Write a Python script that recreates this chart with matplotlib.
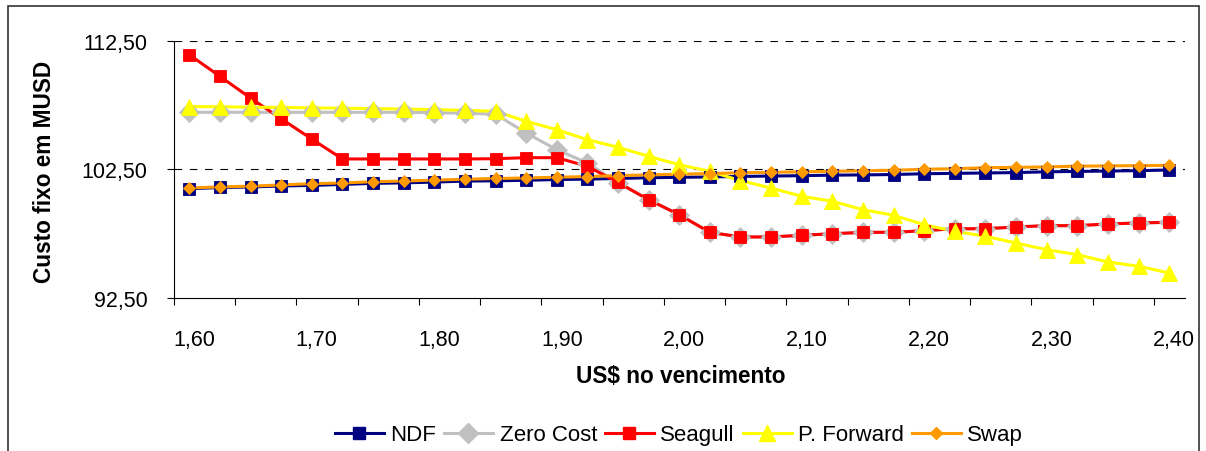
import matplotlib
matplotlib.use("Agg")
import matplotlib.pyplot as plt
import matplotlib.transforms as mtransforms
from matplotlib.lines import Line2D
from matplotlib.patches import Rectangle

plt.rcParams["font.family"] = ["Liberation Sans", "DejaVu Sans"]
plt.rcParams["lines.scale_dashes"] = False

# Dollar rate at maturity (category axis, step 0.025)
rates = [1.600 + 0.025 * i for i in range(33)]
tick_labels = ["1,60", "1,70", "1,80", "1,90", "2,00", "2,10", "2,20", "2,30", "2,40"]

ndf = [101.00, 101.10, 101.14, 101.22, 101.26, 101.34, 101.42, 101.46, 101.52, 101.60,
       101.62, 101.66, 101.72, 101.75, 101.80, 101.86, 101.89, 101.92, 101.96, 101.99,
       102.02, 102.06, 102.08, 102.11, 102.17, 102.20, 102.23, 102.26, 102.32, 102.35,
       102.38, 102.41, 102.46]
zero_cost = [106.95, 106.95, 106.95, 106.95, 106.95, 106.95, 106.95, 106.95, 106.92, 106.88,
             106.80, 105.34, 104.04, 103.01, 101.45, 100.15, 98.98, 97.61, 97.25, 97.25,
             97.38, 97.50, 97.61, 97.61, 97.74, 97.89, 97.89, 98.03, 98.13, 98.13,
             98.26, 98.34, 98.39]
seagull = [111.43, 109.75, 108.06, 106.45, 104.87, 103.32, 103.32, 103.32, 103.32, 103.32,
           103.34, 103.42, 103.42, 102.75, 101.49, 100.15, 98.98, 97.61, 97.25, 97.25,
           97.38, 97.50, 97.61, 97.61, 97.74, 97.89, 97.89, 98.03, 98.13, 98.13,
           98.26, 98.34, 98.39]
p_forward = [107.40, 107.38, 107.35, 107.33, 107.30, 107.27, 107.24, 107.20, 107.16, 107.10,
             107.03, 106.25, 105.60, 104.82, 104.23, 103.53, 102.87, 102.36, 101.63, 101.06,
             100.41, 100.03, 99.37, 98.94, 98.20, 97.69, 97.30, 96.78, 96.26, 95.87,
             95.30, 94.97, 94.45]
swap = [101.06, 101.15, 101.20, 101.30, 101.40, 101.45, 101.55, 101.60, 101.68, 101.74,
        101.80, 101.84, 101.90, 101.95, 102.03, 102.08, 102.14, 102.18, 102.25, 102.28,
        102.32, 102.36, 102.40, 102.44, 102.52, 102.56, 102.64, 102.67, 102.70, 102.76,
        102.78, 102.80, 102.82]

series = [
    ("NDF", ndf, "#000080", "s", 9.2),
    ("Zero Cost", zero_cost, "#C0C0C0", "D", 9.8),
    ("Seagull", seagull, "#FF0000", "s", 8.6),
    ("P. Forward", p_forward, "#FFFF00", "^", 11.5),
    ("Swap", swap, "#FF9900", "D", 6.3),
]

W, H = 1206, 452
fig = plt.figure(figsize=(W / 100, H / 100), dpi=100)
ax = fig.add_axes([174 / W, 1 - 299 / H, (1184.5 - 174) / W, (299 - 42) / H])

xpos = list(range(len(rates)))
lw = 2.2
# lines first, then markers on top in series order
for k, (name, vals, color, mk, ms) in enumerate(series):
    ax.plot(xpos, vals, color=color, lw=lw, zorder=2 + 0.01 * k, solid_joinstyle="miter")
for k, (name, vals, color, mk, ms) in enumerate(series):
    ax.plot(xpos, vals, ls="none", marker=mk, ms=ms, mfc=color, mec=color, mew=0.6,
            zorder=3 + 0.01 * k)

ax.set_xlim(-0.5, len(rates) - 0.5)
ax.set_ylim(92.5, 112.5)

# y axis
ax.set_yticks([92.5, 102.5, 112.5])
ax.set_yticklabels(["92,50", "102,50", "112,50"])
ax.tick_params(axis="y", direction="out", length=5, width=0.8, pad=14, labelsize=15.5)
for y in (102.5, 112.5):
    ax.axhline(y, color="black", lw=0.8, dashes=(5.5, 5.5), zorder=1)

# x axis: tick marks every two categories, labels every four
ax.set_xticks([i - 0.5 for i in range(0, len(rates) + 1, 2)], minor=True)
ax.set_xticks(list(range(0, len(rates), 4)))
ax.set_xticklabels(tick_labels)
ax.tick_params(axis="x", which="major", length=0, pad=22, labelsize=15.5)
ax.tick_params(axis="x", which="minor", direction="out", length=5, width=0.8)
offset = mtransforms.ScaledTranslation(5 / 100, 0, fig.dpi_scale_trans)
for lab in ax.get_xticklabels():
    lab.set_transform(lab.get_transform() + offset)

for side in ("top", "right"):
    ax.spines[side].set_visible(False)
for side in ("left", "bottom"):
    ax.spines[side].set_linewidth(0.8)

fig.text(681 / W, 1 - 377 / H, "US$ no vencimento", ha="center", va="center",
         fontsize=16.3, fontweight="bold")
fig.text(45 / W, 1 - 172 / H, "Custo fixo em MUSD", ha="center", va="center",
         rotation=90, fontsize=16.3, fontweight="bold")

handles = [Line2D([], [], color=c, lw=lw, marker=m, ms=s, mfc=c, mec=c)
           for (_, _, c, m, s) in series]
fig.legend(handles, [s[0] for s in series], loc="center", ncol=5,
           bbox_to_anchor=(679 / W, 1 - 436 / H), frameon=False, fontsize=16,
           handlelength=2.2, handletextpad=0.3, columnspacing=0.35, numpoints=1)

# chart border
fig.add_artist(Rectangle((8 / W, -0.2), (1199 - 8) / W, 0.2 + 1 - 7 / H,
                         transform=fig.transFigure, fill=False, ec="#333333", lw=1.2,
                         clip_on=False))

fig.savefig("out.png", dpi=100)
